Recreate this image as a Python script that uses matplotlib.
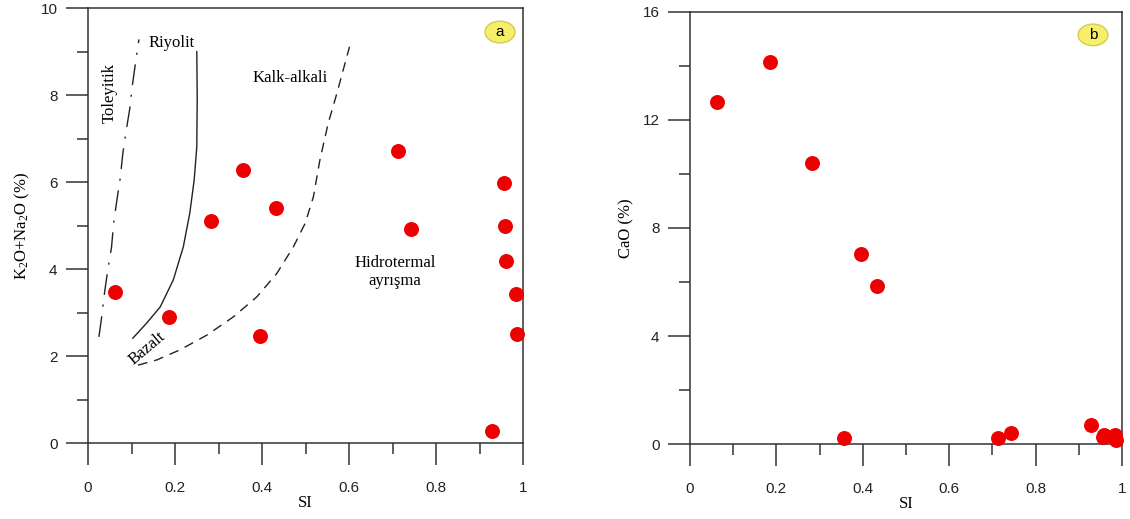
import matplotlib
matplotlib.use("Agg")
import matplotlib.pyplot as plt
from matplotlib.patches import Ellipse
from matplotlib.ticker import MultipleLocator, FormatStrFormatter

plt.rcParams['font.family'] = ['Liberation Sans', 'DejaVu Sans']
plt.rcParams['mathtext.fontset'] = 'custom'
plt.rcParams['mathtext.rm'] = 'Liberation Serif'
plt.rcParams['mathtext.it'] = 'Liberation Serif'

# sample values
si = [0.062, 0.186, 0.283, 0.356, 0.395, 0.432, 0.713, 0.743,
      0.929, 0.956, 0.959, 0.961, 0.984, 0.986]
alkali = [3.47, 2.90, 5.10, 6.28, 2.46, 5.40, 6.71, 4.92,
          0.28, 5.98, 4.99, 4.18, 3.43, 2.51]
cao = [12.67, 14.15, 10.41, 0.21, 7.04, 5.85, 0.21, 0.41,
       0.70, 0.26, 0.32, 0.28, 0.35, 0.15]

# field boundaries in panel a
toleyitik_x = [0.025, 0.032, 0.038, 0.046, 0.054, 0.059, 0.067, 0.074,
               0.080, 0.088, 0.096, 0.102, 0.110, 0.117]
toleyitik_y = [2.44, 2.94, 3.46, 4.02, 4.50, 5.07, 5.63, 6.09,
               6.66, 7.20, 7.69, 8.23, 8.80, 9.28]
riyolit_x = [0.103, 0.135, 0.166, 0.196, 0.219, 0.234, 0.244, 0.250, 0.251, 0.250]
riyolit_y = [2.41, 2.76, 3.13, 3.75, 4.51, 5.29, 6.05, 6.81, 7.96, 9.00]
kalk_x = [0.115, 0.158, 0.211, 0.273, 0.334, 0.388, 0.434, 0.472,
          0.499, 0.518, 0.533, 0.552, 0.572, 0.601]
kalk_y = [1.79, 1.91, 2.14, 2.48, 2.90, 3.36, 3.90, 4.51,
          5.05, 5.66, 6.51, 7.35, 8.04, 9.11]

SERIF = ['Liberation Serif', 'DejaVu Serif']
EDGE = '#333333'


def style_axes(ax, ymax, ymajor):
    ax.set_xlim(0, 1)
    ax.set_ylim(0, ymax)
    ax.xaxis.set_major_locator(MultipleLocator(0.2))
    ax.xaxis.set_minor_locator(MultipleLocator(0.1))
    ax.yaxis.set_major_locator(MultipleLocator(ymajor))
    ax.yaxis.set_minor_locator(MultipleLocator(ymajor / 2))
    ax.xaxis.set_major_formatter(FormatStrFormatter('%g'))
    ax.yaxis.set_major_formatter(FormatStrFormatter('%g'))
    ax.tick_params(which='major', direction='out', length=16, width=1.1,
                   color=EDGE, labelsize=11, labelcolor='#222222')
    ax.tick_params(which='minor', direction='out', length=8, width=1.1, color=EDGE)
    ax.tick_params(axis='x', which='major', pad=11)
    ax.tick_params(axis='y', which='major', pad=6)
    for s in ax.spines.values():
        s.set_color(EDGE)
        s.set_linewidth(1.1)
    ax.set_xlabel('SI', family=SERIF, fontsize=12, labelpad=0)


def badge(ax, x, y, letter):
    ax.add_patch(Ellipse((x, y), 0.069, 0.05, transform=ax.transAxes,
                         fc='#f6ef6a', ec='#d4cb55', lw=1, zorder=6))
    ax.text(x, y, letter, ha='center', va='center', fontsize=11,
            transform=ax.transAxes, zorder=7)


fig = plt.figure(figsize=(11.3, 5.19), dpi=100)
ax1 = fig.add_axes([0.0779, 0.1464, 0.385, 0.838])
ax2 = fig.add_axes([0.6106, 0.1445, 0.3823, 0.8324])

# panel a
style_axes(ax1, 10, 2)
ax1.plot(toleyitik_x, toleyitik_y, color='#222222', lw=1.0,
         linestyle=(0, (15, 7, 1.5, 7)))
ax1.plot(riyolit_x, riyolit_y, color='#222222', lw=1.0)
ax1.plot(kalk_x, kalk_y, color='#222222', lw=1.0, linestyle=(0, (7, 5)))
ax1.scatter(si, alkali, s=95, color='#ee0000', zorder=5, clip_on=False)
ax1.text(0.193, 9.2, 'Riyolit', family=SERIF, fontsize=12, ha='center', va='center')
ax1.text(0.05, 8.05, 'Toleyitik', family=SERIF, fontsize=12, ha='center',
         va='center', rotation=90)
ax1.text(0.464, 8.39, 'Kalk-alkali', family=SERIF, fontsize=12, ha='center', va='center')
ax1.text(0.706, 3.93, 'Hidrotermal\nayrışma', family=SERIF, fontsize=12,
         ha='center', va='center', linespacing=1.1)
ax1.text(0.135, 2.18, 'Bazalt', family=SERIF, fontsize=12, ha='center',
         va='center', rotation=40)
ax1.set_ylabel('K$_2$O+Na$_2$O (%)', family=SERIF, fontsize=12, labelpad=6)
badge(ax1, 0.947, 0.945, 'a')

# panel b
style_axes(ax2, 16, 4)
ax2.scatter(si, cao, s=95, color='#ee0000', zorder=5, clip_on=False)
ax2.set_ylabel('CaO (%)', family=SERIF, fontsize=12, labelpad=6)
badge(ax2, 0.933, 0.947, 'b')

fig.savefig('out.png', dpi=100)
